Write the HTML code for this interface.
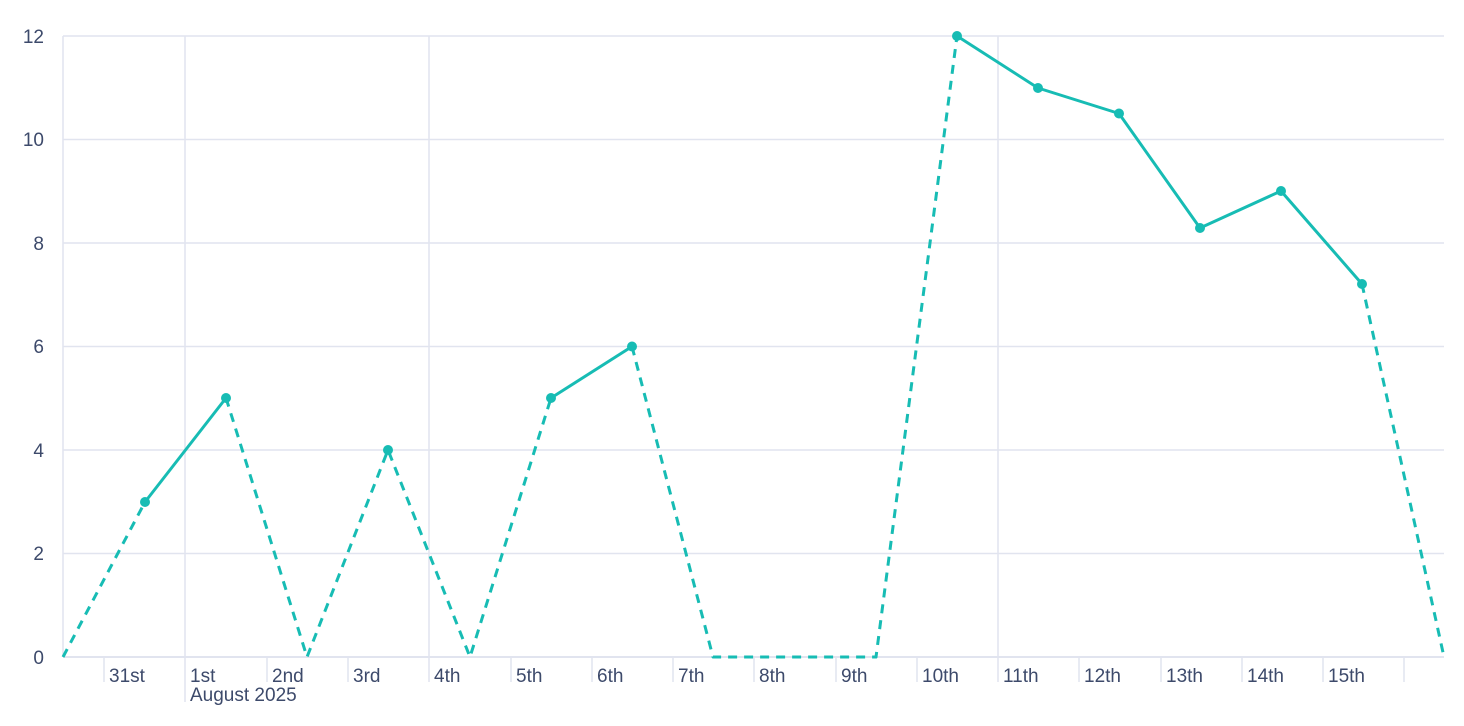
<!DOCTYPE html>
<html><head><meta charset="utf-8"><style>
html,body{margin:0;padding:0;background:#fff;}
svg{display:block;font-family:"Liberation Sans",sans-serif;}
text{fill:#3d4a6b;font-size:19px;}
</style></head><body>
<svg width="1464" height="726" viewBox="0 0 1464 726">
<g stroke="#e1e4ef" stroke-width="1.5">
<line x1="63" y1="36" x2="1444" y2="36"/>
<line x1="63" y1="139.5" x2="1444" y2="139.5"/>
<line x1="63" y1="243" x2="1444" y2="243"/>
<line x1="63" y1="346.5" x2="1444" y2="346.5"/>
<line x1="63" y1="450" x2="1444" y2="450"/>
<line x1="63" y1="553.5" x2="1444" y2="553.5"/>
<line x1="63" y1="36" x2="63" y2="657"/>
<line x1="185" y1="36" x2="185" y2="702"/>
<line x1="429" y1="36" x2="429" y2="682"/>
<line x1="998" y1="36" x2="998" y2="682"/>
<line x1="104" y1="657" x2="104" y2="682"/>
<line x1="267" y1="657" x2="267" y2="682"/>
<line x1="348" y1="657" x2="348" y2="682"/>
<line x1="511" y1="657" x2="511" y2="682"/>
<line x1="592" y1="657" x2="592" y2="682"/>
<line x1="673" y1="657" x2="673" y2="682"/>
<line x1="754" y1="657" x2="754" y2="682"/>
<line x1="836" y1="657" x2="836" y2="682"/>
<line x1="917" y1="657" x2="917" y2="682"/>
<line x1="1079" y1="657" x2="1079" y2="682"/>
<line x1="1161" y1="657" x2="1161" y2="682"/>
<line x1="1242" y1="657" x2="1242" y2="682"/>
<line x1="1323" y1="657" x2="1323" y2="682"/>
<line x1="1404" y1="657" x2="1404" y2="682"/>
<line x1="63" y1="657" x2="1444" y2="657" stroke-width="2"/>
</g>
<g text-anchor="end">
<text x="44" y="43">12</text><text x="44" y="146">10</text><text x="44" y="250">8</text>
<text x="44" y="353">6</text><text x="44" y="457">4</text><text x="44" y="560">2</text><text x="44" y="664">0</text>
</g>
<g>
<text x="109" y="682">31st</text><text x="190" y="682">1st</text><text x="190" y="701">August 2025</text>
<text x="272" y="682">2nd</text><text x="353" y="682">3rd</text><text x="434" y="682">4th</text>
<text x="516" y="682">5th</text><text x="597" y="682">6th</text><text x="678" y="682">7th</text>
<text x="759" y="682">8th</text><text x="841" y="682">9th</text><text x="922" y="682">10th</text>
<text x="1003" y="682">11th</text><text x="1084" y="682">12th</text><text x="1166" y="682">13th</text>
<text x="1247" y="682">14th</text><text x="1328" y="682">15th</text>
</g>
<g fill="none" stroke="#17bcb4" stroke-width="3" stroke-linejoin="round">
<polyline stroke-dasharray="9,7" points="63,657 145,502 "/>
<polyline stroke-dasharray="9,7" points="226,398 307,657 388,450 470,657 551,398"/>
<polyline stroke-dasharray="9,7" points="632,346.5 713,657 795,657 876,657 957,36"/>
<polyline stroke-dasharray="9,7" points="1362,284 1444,657"/>
<polyline points="145,502 226,398"/>
<polyline points="551,398 632,346.5"/>
<polyline points="957,36 1038,88 1119,113.5 1200,228 1281,191 1362,284"/>
</g>
<g fill="#17bcb4">
<circle cx="145" cy="502" r="5"/><circle cx="226" cy="398" r="5"/><circle cx="388" cy="450" r="5"/>
<circle cx="551" cy="398" r="5"/><circle cx="632" cy="346.5" r="5"/><circle cx="957" cy="36" r="5"/>
<circle cx="1038" cy="88" r="5"/><circle cx="1119" cy="113.5" r="5"/><circle cx="1200" cy="228" r="5"/>
<circle cx="1281" cy="191" r="5"/><circle cx="1362" cy="284" r="5"/>
</g>
</svg>
</body></html>
